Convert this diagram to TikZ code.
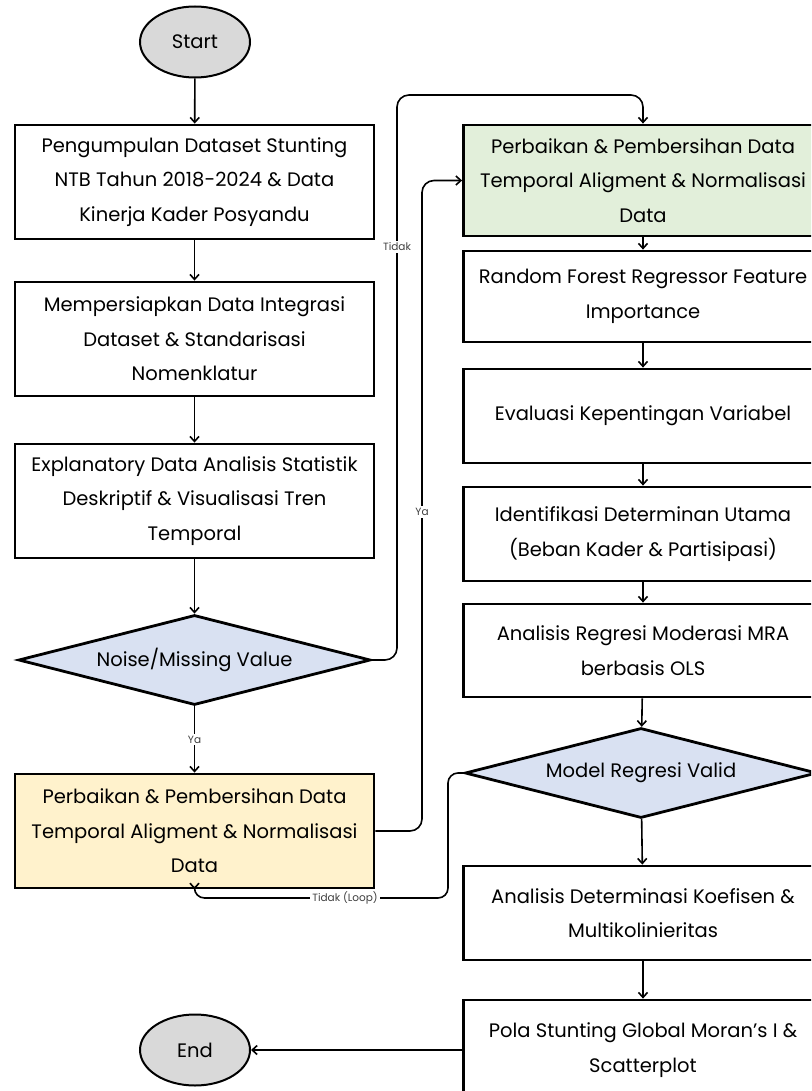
\documentclass[tikz,border=0pt]{standalone}
\usepackage{fontspec}
\setmainfont{Poppins}
\usetikzlibrary{positioning,shapes.geometric,arrows.meta}
\definecolor{greyfill}{HTML}{D9D9D9}
\definecolor{yellowfill}{HTML}{FFF2CC}
\definecolor{greenfill}{HTML}{E2EFDA}
\definecolor{bluefill}{HTML}{D9E1F2}

\begin{document}
\begin{tikzpicture}[
        x=1pt, y=-1pt,
        font=\fontsize{19.5}{34.5}\selectfont,
        >={Straight Barb[length=5pt,width=9pt]},
        terminal/.style={ellipse, draw=black, line width=2pt, fill=greyfill, minimum width=110pt, minimum height=71pt, inner sep=0pt},
        process/.style={draw=black, line width=2.8pt, fill=white, minimum width=359pt, minimum height=114pt, align=center, inner sep=0pt},
        decision/.style={diamond, aspect=3.9, draw=black, line width=2.8pt, fill=bluefill, minimum width=352pt, minimum height=90pt, inner sep=0pt},
        arrow/.style={->, line width=1.6pt, draw=black},
        loop/.style={arrow, rounded corners=12pt},
        flowlabel/.style={font=\fontsize{10.5}{12}\selectfont, text=black!75, fill=white, inner sep=2pt},
    ]
    \useasboundingbox (0,0) rectangle (811,1091);
    \clip (0,0) rectangle (811,1091);

    % kolom kiri
    \node[terminal] (start) at (195,42) {Start};
    \node[process] (collect) at (194.5,182) {Pengumpulan Dataset Stunting\\NTB Tahun 2018-2024 \& Data\\Kinerja Kader Posyandu};
    \node[process] (prepare) at (194.5,339) {Mempersiapkan Data Integrasi\\Dataset \& Standarisasi\\Nomenklatur};
    \node[process] (eda) at (194.5,501) {Explanatory Data Analisis Statistik\\Deskriptif \& Visualisasi Tren\\Temporal};
    \node[decision] (noise) at (194.5,660) {Noise/Missing Value};
    \node[process, fill=yellowfill] (cleanL) at (194.5,831) {Perbaikan \& Pembersihan Data\\Temporal Aligment \& Normalisasi\\Data};
    \node[terminal] (end) at (195,1050) {End};

    % kolom kanan
    \node[process, fill=greenfill, minimum height=111pt] (cleanR) at (643,180.5) {Perbaikan \& Pembersihan Data\\Temporal Aligment \& Normalisasi\\Data};
    \node[process, minimum height=91pt] (rf) at (643,296.5) {Random Forest Regressor Feature\\Importance};
    \node[process, minimum height=94pt] (eval) at (643,416) {Evaluasi Kepentingan Variabel};
    \node[process, minimum height=94pt] (ident) at (643,534) {Identifikasi Determinan Utama\\(Beban Kader \& Partisipasi)};
    \node[process, minimum height=93pt] (mra) at (643,650.5) {Analisis Regresi Moderasi MRA\\berbasis OLS};
    \node[decision] (valid) at (641,773) {Model Regresi Valid};
    \node[process, minimum height=94pt] (det) at (643,913) {Analisis Determinasi Koefisen \&\\Multikolinieritas};
    \node[process, minimum height=100pt] (moran) at (643,1050) {Pola Stunting Global Moran's I \&\\Scatterplot};

    % titik belok
    \coordinate (tidakTurn) at (397,95);
    \coordinate (yaTurn) at (422,180.5);
    \coordinate (loopTurn) at (448,898);

    % alur utama
    \draw[arrow] (start) -- (collect);
    \draw[arrow] (collect) -- (prepare);
    \draw[arrow] (prepare) -- (eda);
    \draw[arrow] (eda) -- (noise);
    \draw[arrow] (noise) -- node[flowlabel] (lblYaL) {Ya} (cleanL);
    \draw[arrow] (cleanR) -- (rf);
    \draw[arrow] (rf) -- (eval);
    \draw[arrow] (eval) -- (ident);
    \draw[arrow] (ident) -- (mra);
    \draw[arrow] (mra) -- (valid);
    \draw[arrow] (valid) -- (det);
    \draw[arrow] (det) -- (moran);
    \draw[arrow] (moran.west) -- (end.east);

    % percabangan
    \draw[loop] (noise.east) -| (tidakTurn) -| (cleanR.north);
    \node[flowlabel] (lblTidak) at (397,247) {Tidak};
    \draw[loop] (cleanL.east) -| (yaTurn) -- (cleanR.west);
    \node[flowlabel] (lblYaR) at (422,512) {Ya};
    \draw[loop, rounded corners=10pt] (valid.west) -| (loopTurn) -| (cleanL.south);
    \node[flowlabel] (lblLoop) at (345,898) {Tidak (Loop)};

\end{tikzpicture}
\end{document}
